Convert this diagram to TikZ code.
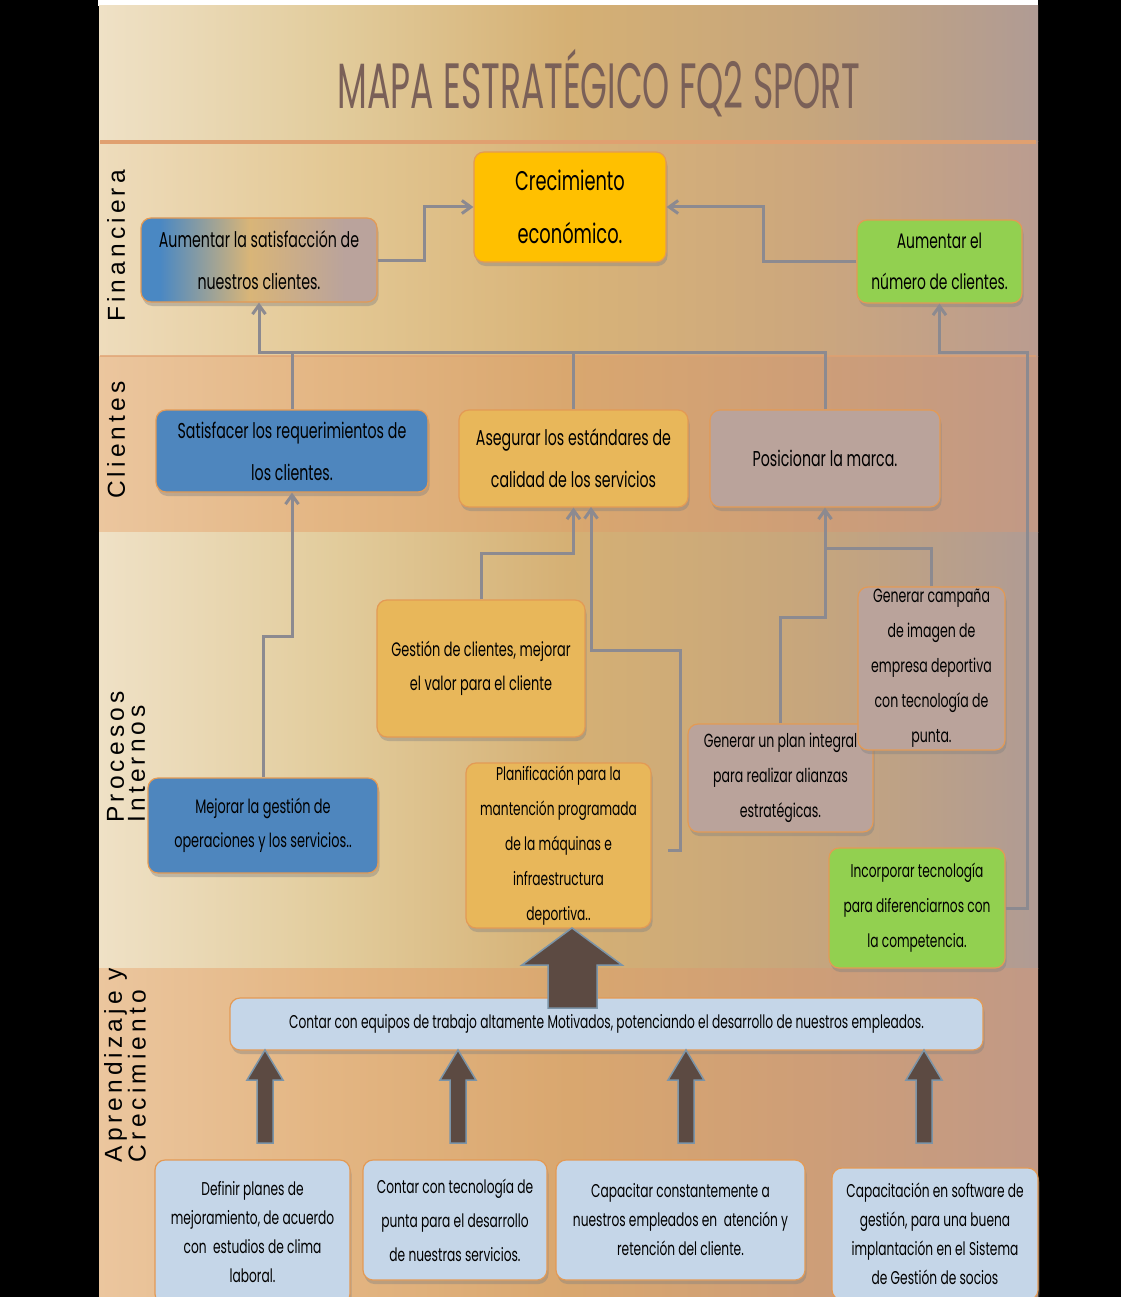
\documentclass[tikz,border=0pt]{standalone}
\usepackage{fontspec}
\setmainfont{Poppins}
\newfontfamily\cond[FakeStretch=0.66]{Poppins}
\newfontfamily\tcond[FakeStretch=0.54]{Poppins}
\newfontfamily\arialf[LetterSpace=17]{Liberation Sans}
\usetikzlibrary{arrows.meta,shadows}
\definecolor{titlec}{HTML}{7A6058}
\definecolor{boxedge}{HTML}{E39A55}
\definecolor{conngray}{HTML}{8C8A90}
\definecolor{gold}{HTML}{FFC000}
\definecolor{greenb}{HTML}{92D050}
\definecolor{blueb}{HTML}{4E86BE}
\definecolor{ochre}{HTML}{E8B75A}
\definecolor{mauve}{HTML}{BAA39B}
\definecolor{lblue}{HTML}{C5D6E8}
\definecolor{bigfill}{HTML}{5C4A42}
\definecolor{bigedge}{HTML}{7B94A8}
\definecolor{sepline}{HTML}{E0A070}
\pgfdeclarehorizontalshading{bandlight}{100bp}{%
  rgb(0bp)=(0.937,0.882,0.776); rgb(25bp)=(0.937,0.882,0.776); rgb(37.5bp)=(0.886,0.800,0.612); rgb(50bp)=(0.835,0.690,0.455);
  rgb(62.5bp)=(0.780,0.651,0.486); rgb(75bp)=(0.690,0.608,0.580); rgb(100bp)=(0.690,0.608,0.580)}
\pgfdeclarehorizontalshading{bandfin}{100bp}{%
  rgb(0bp)=(0.933,0.863,0.737); rgb(25bp)=(0.933,0.863,0.737); rgb(37.5bp)=(0.890,0.784,0.580); rgb(50bp)=(0.847,0.702,0.471);
  rgb(62.5bp)=(0.800,0.655,0.490); rgb(75bp)=(0.730,0.612,0.565); rgb(100bp)=(0.730,0.612,0.565)}
\pgfdeclarehorizontalshading{bandpeach}{100bp}{%
  rgb(0bp)=(0.922,0.776,0.620); rgb(25bp)=(0.922,0.776,0.620); rgb(37.5bp)=(0.890,0.710,0.510); rgb(50bp)=(0.851,0.655,0.435);
  rgb(62.5bp)=(0.808,0.620,0.467); rgb(75bp)=(0.757,0.600,0.525); rgb(100bp)=(0.757,0.600,0.525)}
\pgfdeclarehorizontalshading{boxgrad}{100bp}{%
  rgb(0bp)=(0.290,0.533,0.765); rgb(29bp)=(0.290,0.533,0.765); rgb(48bp)=(0.850,0.710,0.470); rgb(68bp)=(0.730,0.640,0.610); rgb(100bp)=(0.730,0.640,0.610)}
\tikzset{
 boxs/.style={draw=boxedge, line width=1.2pt, rounded corners=10pt, align=center, inner sep=2pt,
   drop shadow={shadow xshift=1.5pt, shadow yshift=-4pt, opacity=0.4}},
 conn/.style={draw=conngray, line width=3pt},
 tip/.style={-{Straight Barb[length=9pt,width=13pt]}},
 bigarrow/.style={fill=bigfill, draw=bigedge, line width=1.5pt, line join=miter},
 seclabel/.style={rotate=90, font={\arialf\fontsize{24.5}{21}\selectfont}, align=left, text=black},
}
\begin{document}
\begin{tikzpicture}[x=1pt,y=-1pt]
\useasboundingbox (0,0) rectangle (1121,1297);
\fill[black] (0,0) rectangle (1121,1297);
\fill[white] (98,0) rectangle (1038,6);
% bands
\shade[shading=bandlight] (99,6) rectangle (1038,142);
\shade[shading=bandfin] (99,142) rectangle (1038,356);
\shade[shading=bandpeach] (99,356) rectangle (1038,532);
\shade[shading=bandlight] (99,532) rectangle (1038,968);
\shade[shading=bandpeach] (99,968) rectangle (1038,1297);
\draw[sepline, line width=4pt] (100,142) -- (1036,142);
\draw[sepline, line width=2pt, opacity=0.7] (100,356) -- (1036,356);

% title
\node[font={\tcond\fontsize{64}{64}\selectfont}, text=titlec] (title) at (599,83) {MAPA ESTRATÉGICO FQ2 SPORT};

% section labels
\node[seclabel] (lfin) at (116,246) {Financiera};
\node[seclabel] (lcli) at (116,440) {Clientes};
\node[seclabel] (lpro) at (126,757) {Procesos\\Internos};
\node[seclabel] (lapr) at (125,1065) {Aprendizaje y\\Crecimiento};

% boxes
\node[boxs, fill=gold, minimum width=192, minimum height=110, font={\cond\fontsize{27}{53}\selectfont}] (crec) at (570,207) {Crecimiento\\económico.};
\node[boxs, shading=boxgrad, minimum width=236, minimum height=84, font={\cond\fontsize{21.5}{42}\selectfont}] (aumsat) at (259,260) {Aumentar la satisfacción de\\nuestros clientes.};
\node[boxs, fill=greenb, minimum width=165, minimum height=83, font={\cond\fontsize{21}{41}\selectfont}] (numcli) at (939.5,261.5) {Aumentar el\\número de clientes.};
\node[boxs, fill=blueb, minimum width=272, minimum height=82, font={\cond\fontsize{21.5}{42}\selectfont}] (satisf) at (292,451) {Satisfacer los requerimientos de\\los clientes.};
\node[boxs, fill=ochre, minimum width=229, minimum height=97, font={\cond\fontsize{21.5}{42}\selectfont}] (asegur) at (573.5,458.5) {Asegurar los estándares de\\calidad de los servicios};
\node[boxs, fill=mauve, minimum width=230, minimum height=97, font={\cond\fontsize{21.5}{42}\selectfont}] (posic) at (825,458.5) {Posicionar la marca.};
\node[boxs, fill=ochre, minimum width=208, minimum height=137, font={\cond\fontsize{19.5}{34}\selectfont}] (gest) at (481,668.5) {Gestión de clientes, mejorar\\el valor para el cliente};
\node[boxs, fill=blueb, minimum width=230, minimum height=95, font={\cond\fontsize{19.5}{34}\selectfont}] (mejor) at (263,825.5) {Mejorar la gestión de\\operaciones y los servicios..};
\node[boxs, fill=ochre, minimum width=185, minimum height=165, font={\cond\fontsize{18.5}{35}\selectfont}] (plan) at (558.5,845.5) {Planificación para la\\mantención programada\\de la máquinas e\\infraestructura\\deportiva..};
\node[boxs, fill=mauve, minimum width=185, minimum height=108, font={\cond\fontsize{19}{35}\selectfont}] (alianza) at (780.5,778) {Generar un plan integral\\para realizar alianzas\\estratégicas.};
\node[boxs, fill=mauve, minimum width=147, minimum height=163, font={\cond\fontsize{19}{35}\selectfont}] (campana) at (931.5,668.5) {Generar campaña\\de imagen de\\empresa deportiva\\con tecnología de\\punta.};
\node[boxs, fill=greenb, minimum width=176, minimum height=120, font={\cond\fontsize{18.5}{35}\selectfont}] (incorp) at (917,908) {Incorporar tecnología\\para diferenciarnos con\\la competencia.};
\node[boxs, fill=lblue, minimum width=753, minimum height=52, font={\cond\fontsize{18.5}{30}\selectfont}] (equip) at (606.5,1024) {Contar con equipos de trabajo altamente Motivados, potenciando el desarrollo de nuestros empleados.};
\node[boxs, fill=lblue, minimum width=195, minimum height=144, font={\cond\fontsize{18.5}{29}\selectfont}] (defin) at (252.5,1232) {Definir planes de\\mejoramiento, de acuerdo\\con \ estudios de clima\\laboral.};
\node[boxs, fill=lblue, minimum width=184, minimum height=120, font={\cond\fontsize{18.5}{34}\selectfont}] (tecno) at (455,1220) {Contar con tecnología de\\punta para el desarrollo\\de nuestras servicios.};
\node[boxs, fill=lblue, minimum width=249, minimum height=120, font={\cond\fontsize{18.5}{29}\selectfont}] (capac) at (680.5,1220) {Capacitar constantemente a\\nuestros empleados en \ atención y\\retención del cliente.};
\node[boxs, fill=lblue, minimum width=206, minimum height=132, font={\cond\fontsize{18.5}{29}\selectfont}] (softw) at (935,1234) {Capacitación en software de\\gestión, para una buena\\implantación en el Sistema\\de Gestión de socios};

% connectors
\draw[conn, tip] (aumsat.east) -- (424,260) |- (crec.west);
\draw[conn, tip] (numcli.west) -- (763,261.5) |- (crec.east);
\draw[conn, tip] (asegur.north) -- (573.5,352) -| (aumsat.south);
\draw[conn] (satisf.north) -- (292,352);
\draw[conn] (posic.north) -- (825,352) -- (573.5,352);
\draw[conn, tip] (incorp.east) -- (1027,908) -- (1027,352) -| (numcli.south);
\draw[conn, tip] (mejor.north) -- (263,636) -| (satisf.south);
\draw[conn, tip] (gest.north) -- (481,553) -| (asegur.south);
\coordinate (plstub) at (668,850);
\draw[conn, tip] (plstub) -- (680,850) -- (680,650) -- (591,650) -- (591,507);
\draw[conn, tip] (alianza.north) -- (780.5,617) -| (posic.south);
\draw[conn] (campana.north) -- (931.5,548) -- (825,548);

% big arrows
\draw[bigarrow] (548,1008) -- (548,965) -- (522,965) -- (572,928) -- (622,965) -- (597,965) -- (597,1008) -- cycle;
\foreach \cx/\nm in {265/defin, 458/tecno, 686/capac, 924/softw}{
  \draw[bigarrow] (\cx-8,1143) -- (\cx-8,1080) -- (\cx-18,1080) -- (\cx,1050) -- (\cx+18,1080) -- (\cx+8,1080) -- (\cx+8,1143) -- cycle;
}
\end{tikzpicture}
\end{document}
